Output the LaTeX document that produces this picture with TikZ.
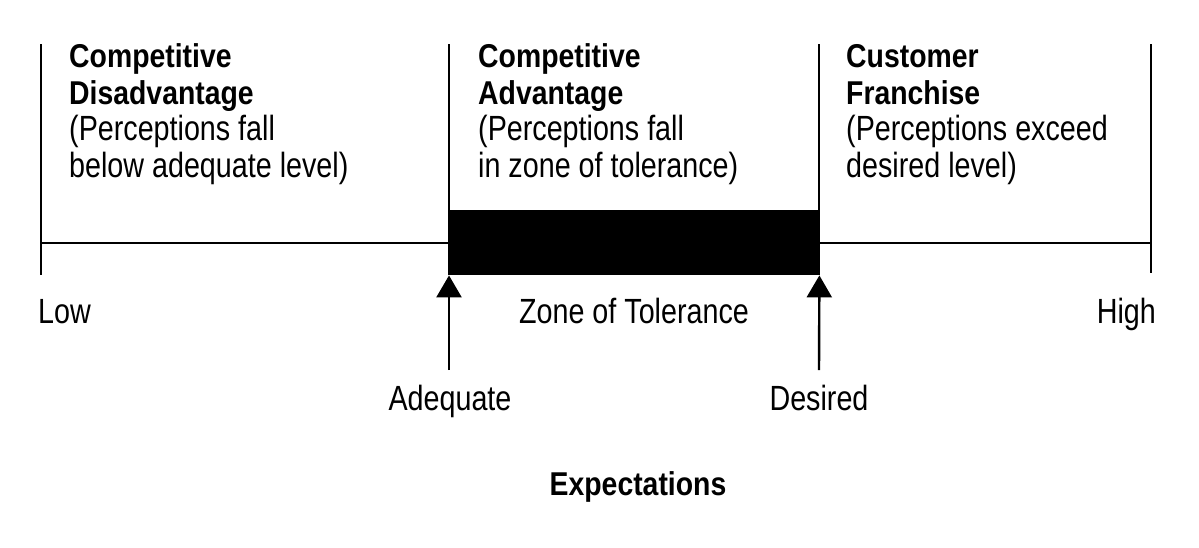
\documentclass[tikz,border=0pt]{standalone}
\usepackage{fontspec}
\setmainfont{Liberation Sans}
\newfontfamily\regcf{Liberation Sans}[FakeStretch=0.82]
\newfontfamily\boldcf{Liberation Sans Bold}[FakeStretch=0.86]
\usetikzlibrary{arrows.meta}
\tikzset{
  reg/.style={inner sep=0pt, font=\regcf\fontsize{35}{36.7}\selectfont},
  hd/.style={inner sep=0pt, font=\boldcf\fontsize{33}{36.7}\selectfont},
  rule/.style={line width=2.6pt, black},
  axis/.style={line width=2.1pt, black},
  uparrow/.style={line width=2.4pt, -{Triangle[width=25pt,length=22pt]}},
}
\begin{document}
\begin{tikzpicture}[x=1pt,y=-1pt]
\useasboundingbox (0,0) rectangle (1199,547);
% ticks and axis
\coordinate (t1a) at (41,44);  \coordinate (t1b) at (41,275);
\coordinate (t2a) at (449,44); \coordinate (t2b) at (449,275);
\coordinate (t3a) at (819,44); \coordinate (t3b) at (819,275);
\coordinate (t4a) at (1151,44);\coordinate (t4b) at (1151,273);
\coordinate (axL) at (41,243); \coordinate (axR) at (1151,243);
\draw[rule] (t1a) -- (t1b);
\draw[rule] (t2a) -- (t2b);
\draw[rule] (t3a) -- (t3b);
\draw[rule] (t4a) -- (t4b);
\draw[axis] (axL) -- (axR);
% zone bar
\node[fill=black, draw=none, inner sep=0pt, minimum width=370pt, minimum height=65pt, anchor=north west] (bar) at (449,210) {};
% headings
\node[hd, anchor=base west] (h1a) at (69,67) {Competitive};
\node[hd, anchor=base west] (h1b) at (69,104) {Disadvantage};
\node[reg, anchor=base west] (h1c) at (69,140) {(Perceptions fall};
\node[reg, anchor=base west] (h1d) at (69,177) {below adequate level)};
\node[hd, anchor=base west] (h2a) at (478,67) {Competitive};
\node[hd, anchor=base west] (h2b) at (478,104) {Advantage};
\node[reg, anchor=base west] (h2c) at (478,140) {(Perceptions fall};
\node[reg, anchor=base west] (h2d) at (478,177) {in zone of tolerance)};
\node[hd, anchor=base west] (h3a) at (846,67) {Customer};
\node[hd, anchor=base west] (h3b) at (846,104) {Franchise};
\node[reg, anchor=base west] (h3c) at (846,140) {(Perceptions exceed};
\node[reg, anchor=base west] (h3d) at (846,177) {desired level)};
% axis labels
\node[reg, anchor=base west] (low) at (38,323) {Low};
\node[reg, anchor=base east] (high) at (1156,323) {High};
\node[reg, anchor=base] (zone) at (634,323) {Zone of Tolerance};
% arrows
\node[reg, anchor=base] (adeq) at (450,410) {Adequate};
\node[reg, anchor=base] (des) at (819,410) {Desired};
\coordinate (a1) at (449,370); \coordinate (a2) at (819,370);
\draw[uparrow] (a1) -- (bar.south west);
\draw[uparrow] (a2) -- (bar.south east);
\node[hd, anchor=base] (exp) at (638,495) {Expectations};
\end{tikzpicture}
\end{document}
